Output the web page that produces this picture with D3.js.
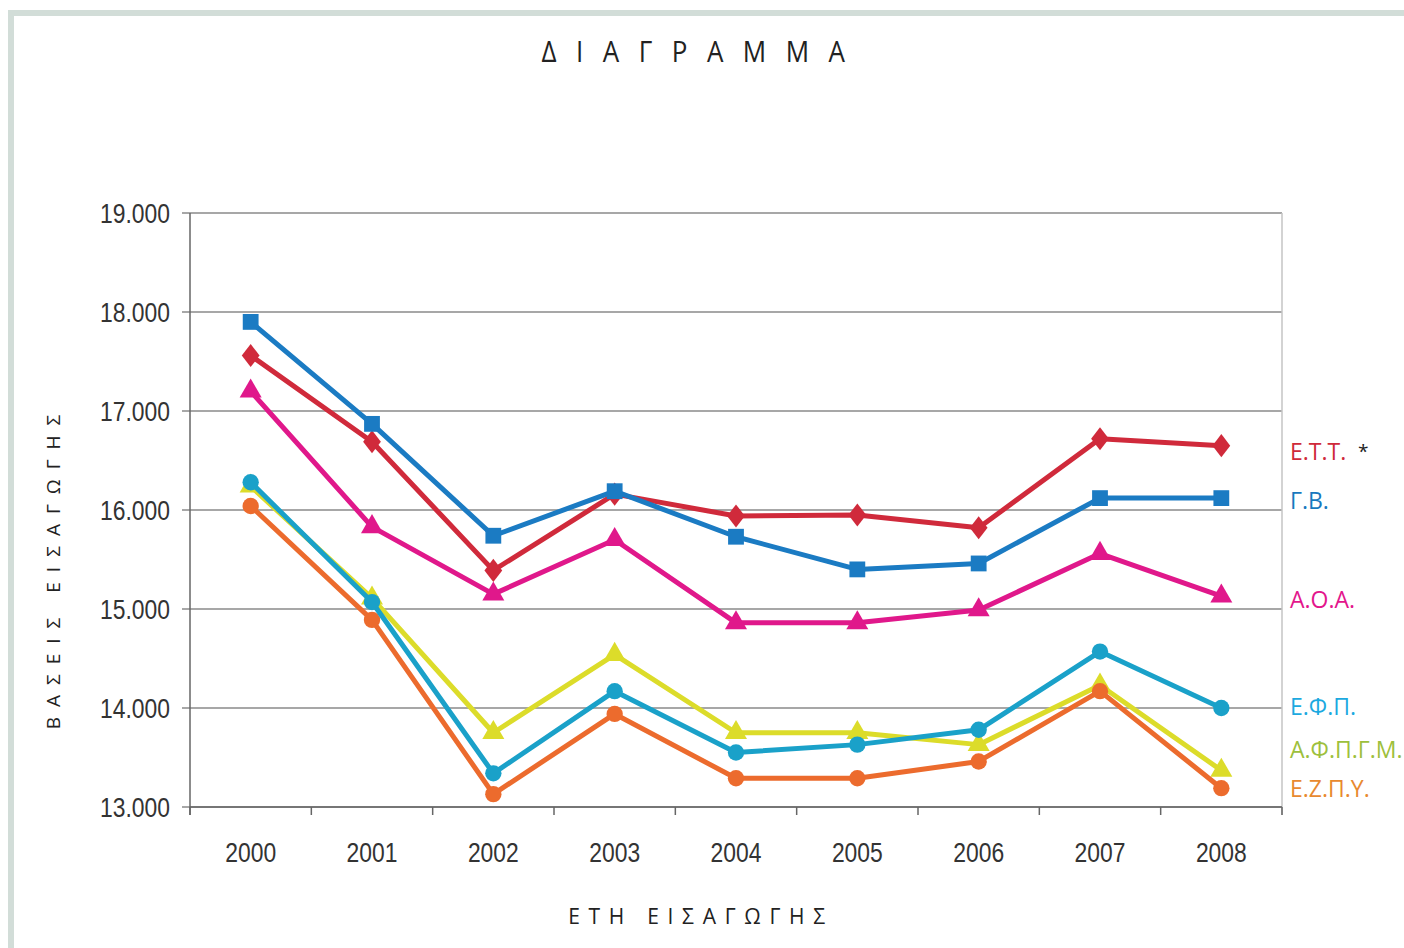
<!DOCTYPE html>
<html><head><meta charset="utf-8">
<script src="https://cdn.jsdelivr.net/npm/d3@7"></script>
<style>body{margin:0;background:#fff}svg{display:block}</style>
</head><body>
<script>
const years = ["2000","2001","2002","2003","2004","2005","2006","2007","2008"];
const yTicks = [13000,14000,15000,16000,17000,18000,19000];
const seriesNames = ["Ε.Τ.Τ.","Γ.Β.","Α.Ο.Α.","Ε.Φ.Π.","Α.Φ.Π.Γ.Μ.","Ε.Ζ.Π.Υ."];
const ett   = [17560,16690,15390,16160,15940,15950,15820,16720,16650];
const gb    = [17900,16870,15740,16190,15730,15400,15460,16120,16120];
const aoa   = [17200,15830,15150,15700,14860,14860,14990,15560,15130];
const efp   = [16280,15070,13340,14170,13550,13630,13780,14570,14000];
const afpgm = [16240,15110,13750,14540,13750,13750,13630,14230,13370];
const ezpy  = [16040,14890,13130,13940,13290,13290,13460,14170,13190];

const W=1404,H=948;
const svg=d3.select("body").append("svg").attr("width",W).attr("height",H);

// page frame
svg.append("rect").attr("x",8).attr("y",10).attr("width",W-8).attr("height",6).attr("fill","#d2ddd8");
svg.append("rect").attr("x",8).attr("y",10).attr("width",6).attr("height",H-10).attr("fill","#d2ddd8");

const x=d3.scaleBand().domain(years).range([190,1282]);
const y=d3.scaleLinear().domain([13000,19000]).range([807,213]);

// gridlines
svg.append("g").selectAll("line").data(yTicks).join("line")
  .attr("x1",182).attr("x2",1282).attr("y1",d=>y(d)).attr("y2",d=>y(d))
  .attr("stroke","#8a8a8a").attr("stroke-width",1.5);
// right border
svg.append("line").attr("x1",1282).attr("x2",1282).attr("y1",213).attr("y2",815).attr("stroke","#c4c4c4").attr("stroke-width",1.5);
// left axis
svg.append("line").attr("x1",190).attr("x2",190).attr("y1",213).attr("y2",815).attr("stroke","#666").attr("stroke-width",1.5);
// x ticks at band boundaries
const bounds=years.map(d=>x(d)).concat([1282]);
svg.append("g").selectAll("line").data(bounds).join("line")
  .attr("x1",d=>d).attr("x2",d=>d).attr("y1",807).attr("y2",815)
  .attr("stroke","#666").attr("stroke-width",1.5);
svg.append("line").attr("x1",190).attr("x2",1282).attr("y1",807).attr("y2",807).attr("stroke","#666").attr("stroke-width",1.5);

// y tick labels
const fmt=d=>d3.format(",")(d).replace(/,/g,".");
svg.append("g").selectAll("text").data(yTicks).join("text")
  .attr("transform",d=>`translate(170,${y(d)+10}) scale(0.88,1.08)`)
  .attr("text-anchor","end").attr("font-family","Liberation Sans, Arial, sans-serif")
  .attr("font-size",26).attr("fill","#333").text(fmt);
// x tick labels
svg.append("g").selectAll("text").data(years).join("text")
  .attr("transform",d=>`translate(${x(d)+x.bandwidth()/2},862) scale(0.88,1.08)`)
  .attr("text-anchor","middle").attr("font-family","Liberation Sans, Arial, sans-serif")
  .attr("font-size",26).attr("fill","#333").text(d=>d);

// series
const series=[
 {name:seriesNames[4],vals:afpgm,color:"#dcdc2a",label:"#9dc03c",shape:d3.symbolTriangle,ly:750},
 {name:seriesNames[5],vals:ezpy,color:"#ec6b2d",label:"#e8892f",shape:d3.symbolCircle,ly:789},
 {name:seriesNames[3],vals:efp,color:"#1aa1c9",label:"#1ca9df",shape:d3.symbolCircle,ly:707},
 {name:seriesNames[2],vals:aoa,color:"#e0188b",label:"#e3168c",shape:d3.symbolTriangle,ly:600},
 {name:seriesNames[0],vals:ett,color:"#d02a3b",label:"#cf2a3a",shape:d3.symbolDiamond,ly:452},
 {name:seriesNames[1],vals:gb,color:"#1b7bc3",label:"#1878be",shape:d3.symbolSquare,ly:501}
];
const cx=i=>x(years[i])+x.bandwidth()/2;
const line=d3.line().x((d,i)=>cx(i)).y(d=>y(d));
series.forEach(s=>{
  const g=svg.append("g");
  g.append("path").attr("d",line(s.vals)).attr("fill","none").attr("stroke",s.color).attr("stroke-width",5).attr("stroke-linejoin","round");
  const size = s.shape===d3.symbolDiamond?190:(s.shape===d3.symbolTriangle?210:(s.shape===d3.symbolSquare?250:210));
  g.selectAll("path.m").data(s.vals).join("path").attr("class","m")
    .attr("transform",(d,i)=>`translate(${cx(i)},${y(d)}) ${s.shape===d3.symbolDiamond?"scale(1.2,0.9)":""}`)
    .attr("d",d3.symbol().type(s.shape).size(size)).attr("fill",s.color);
  svg.append("text").attr("x",1290).attr("y",s.ly+8).attr("font-family","Open Sans, Noto Sans, sans-serif")
    .attr("font-size",23).attr("fill",s.label).text(s.name);
});
svg.append("text").attr("x",1358).attr("y",458).attr("font-family","Open Sans, sans-serif").attr("font-size",19).attr("fill","#222").text("*");

// title
svg.append("text").attr("transform","translate(703,62) scale(1,1.1)").attr("text-anchor","middle")
  .attr("font-family","Open Sans, Noto Sans, sans-serif").attr("font-size",26).attr("letter-spacing",19.5)
  .attr("fill","#222").text("ΔΙΑΓΡΑΜΜΑ");
// axis titles
svg.append("text").attr("transform","translate(60,567) rotate(-90)").attr("text-anchor","middle")
  .attr("font-family","Open Sans, Noto Sans, sans-serif").attr("font-size",19).attr("letter-spacing",10)
  .attr("fill","#222").text("ΒΑΣΕΙΣ  ΕΙΣΑΓΩΓΗΣ");
svg.append("text").attr("x",701).attr("y",924).attr("text-anchor","middle")
  .attr("font-family","Open Sans, Noto Sans, sans-serif").attr("font-size",21).attr("letter-spacing",8.7)
  .attr("fill","#222").text("ΕΤΗ  ΕΙΣΑΓΩΓΗΣ");
</script>
</body></html>
